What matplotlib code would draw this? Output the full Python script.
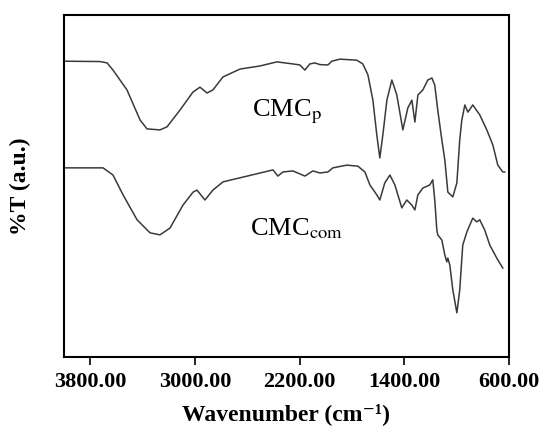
import numpy as np
import matplotlib.pyplot as plt

# espectro CMC_p (numero de onda, %T arbitrario)
wn_p = [4000, 3725, 3671, 3626, 3519, 3419, 3366, 3267, 3213, 3114, 3014, 2961,
        2907, 2862, 2785, 2655, 2503, 2373, 2250, 2197, 2159, 2121, 2082, 2044,
        1983, 1953, 1891, 1762, 1716, 1677, 1639, 1609, 1586, 1563, 1532, 1494,
        1456, 1410, 1372, 1341, 1318, 1295, 1257, 1219, 1188, 1166, 1143, 1112,
        1089, 1066, 1028, 997, 975, 959, 936, 913, 875, 822, 768, 722, 684, 646, 631]
t_p = [86.5, 86.4, 86.0, 83.9, 78.1, 69.3, 66.7, 66.4, 67.3, 72.2, 77.5, 78.9,
       77.2, 78.1, 81.9, 84.2, 85.1, 86.3, 85.7, 85.4, 83.9, 85.7, 86.0, 85.5,
       85.4, 86.5, 87.1, 86.8, 85.7, 82.5, 75.1, 64.9, 58.2, 64.9, 75.1, 81.0,
       76.6, 66.4, 72.8, 75.1, 68.7, 76.6, 78.1, 81.0, 81.6, 79.5, 72.2, 63.5,
       57.6, 48.2, 46.8, 50.9, 63.5, 69.3, 73.7, 71.6, 73.7, 70.8, 66.4, 62.0, 56.1, 54.1, 54.1]

# espectro CMC_com
wn_com = [4000, 3702, 3626, 3549, 3442, 3343, 3267, 3190, 3091, 3014, 2984, 2923,
          2862, 2785, 2632, 2403, 2365, 2327, 2250, 2159, 2098, 2044, 1983, 1945,
          1838, 1754, 1700, 1662, 1609, 1586, 1548, 1509, 1471, 1448, 1418, 1380,
          1341, 1318, 1295, 1257, 1204, 1181, 1166, 1150, 1143, 1112, 1089, 1074,
          1066, 1051, 1028, 997, 975, 952, 921, 898, 875, 845, 822, 784, 745, 692, 646]
t_com = [55.3, 55.3, 53.2, 47.4, 40.1, 36.3, 35.7, 37.7, 44.4, 48.2, 48.8, 45.9,
         48.8, 51.2, 52.6, 54.7, 52.9, 54.1, 54.4, 52.9, 54.4, 53.8, 54.1, 55.3,
         56.1, 55.8, 54.1, 50.3, 47.4, 45.9, 50.9, 53.2, 50.3, 47.4, 43.6, 45.9,
         44.4, 43.0, 47.4, 49.4, 50.3, 51.8, 45.9, 37.1, 35.7, 34.2, 29.8, 27.8,
         28.9, 26.9, 19.6, 12.9, 19.6, 32.7, 36.5, 38.6, 40.6, 39.5, 40.1, 37.1, 32.7, 28.9, 26.0]

ticks_x = [3800, 3000, 2200, 1400, 600]

plt.rcParams["font.family"] = ["Liberation Serif", "DejaVu Serif"]
plt.rcParams["mathtext.fontset"] = "stix"

fig = plt.figure(figsize=(5.43, 4.30), dpi=100)
ax = fig.add_axes([0.118, 0.170, 0.819, 0.795])

ax.plot(wn_p, t_p, color="#3a3a3a", lw=1.1)
ax.plot(wn_com, t_com, color="#3a3a3a", lw=1.1)

ax.text(2560, 71.6, r"CMC$_{\rm p}$", fontsize=19, ha="left", va="center")
ax.text(2575, 37.4, r"CMC$_{\rm com}$", fontsize=19, ha="left", va="center")

ax.set_xlim(4000, 600)
ax.set_ylim(0, 100)
ax.set_xticks(ticks_x)
ax.set_xticklabels([f"{v:.2f}" for v in ticks_x], fontsize=16, fontweight="bold")
ax.set_yticks([])
ax.tick_params(axis="x", direction="out", length=6, width=1.2, pad=5)
for s in ax.spines.values():
    s.set_linewidth(1.5)

ax.set_xlabel("Wavenumber (cm\u207b\u00b9)", fontsize=17, fontweight="bold", labelpad=8)
ax.set_ylabel("%T (a.u.)", fontsize=17, fontweight="bold", labelpad=24)

fig.savefig("out.png", dpi=100)
